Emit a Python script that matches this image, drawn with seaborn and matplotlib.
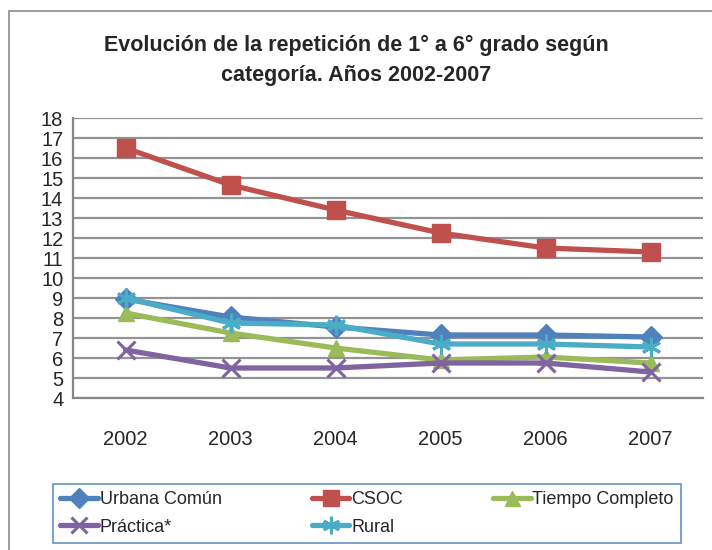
import matplotlib
matplotlib.use("Agg")
import matplotlib.pyplot as plt
import matplotlib.patches as mpatches
import seaborn as sns
import pandas as pd

years = ["2002", "2003", "2004", "2005", "2006", "2007"]
urbana_comun = [8.95, 8.05, 7.55, 7.15, 7.15, 7.05]
csoc = [16.5, 14.65, 13.4, 12.25, 11.5, 11.3]
tiempo_completo = [8.25, 7.25, 6.5, 5.9, 6.05, 5.75]
practica = [6.4, 5.5, 5.5, 5.75, 5.75, 5.3]
rural = [9.0, 7.75, 7.65, 6.7, 6.7, 6.55]

series_names = ["Urbana Común", "CSOC", "Tiempo Completo", "Práctica*", "Rural"]
series_vals = [urbana_comun, csoc, tiempo_completo, practica, rural]
colors = ["#4F81BD", "#C0504D", "#9BBB59", "#8064A2", "#4BACC6"]
markers = ["D", "s", "^", "x", (6, 2, 0)]
msizes = [11, 13, 12, 13, 14]

sns.set_style("white")
plt.rcParams['font.family'] = ['Liberation Sans', 'DejaVu Sans']

fig = plt.figure(figsize=(7.12, 5.5), dpi=100)
ax = fig.add_axes([73/712, 1-398/550, 630/712, 280/550])

# outer chart border
fig.patches.append(mpatches.Rectangle((9/712, -0.05), 1.1, (550-11)/550 + 0.05,
                                      transform=fig.transFigure, fill=False,
                                      edgecolor="#8c8c8c", linewidth=1.2))

for name, vals, c, m, ms in zip(series_names, series_vals, colors, markers, msizes):
    df = pd.DataFrame({"year": years, "val": vals})
    sns.lineplot(data=df, x="year", y="val", ax=ax, color=c, linewidth=3.8,
                 marker=m, markersize=ms, markeredgecolor=c,
                 markeredgewidth=2.2 if m in ("x", (6, 2, 0)) else 1,
                 label=name, sort=False)

handles = dict(zip(series_names, ax.get_lines()))

ax.set_ylim(4, 18)
ax.set_yticks(range(4, 19))
ax.set_xlim(-0.5, 5.5)
ax.set_xticks(range(6))
ax.set_xticklabels(years)
ax.set_xticks([i - 0.5 for i in range(7)], minor=True)
ax.tick_params(axis="x", which="major", length=0, labelsize=14.5, pad=23)
ax.tick_params(axis="x", which="minor", length=6, color="#868686", width=1.2, direction="out")
ax.tick_params(axis="y", length=6, color="#868686", width=1.2, direction="out", labelsize=14.5, pad=1)
ax.set_xlabel("")
ax.set_ylabel("")
ax.yaxis.grid(True, color="#939393", linewidth=1.6)
ax.set_axisbelow(True)
for s in ["top", "right"]:
    ax.spines[s].set_visible(False)
for s in ["left", "bottom"]:
    ax.spines[s].set_color("#868686")
    ax.spines[s].set_linewidth(1.6)
ax.get_legend().remove()

fig.text(0.5, 1-45/550, "Evolución de la repetición de 1° a 6° grado según",
         ha="center", va="center", fontsize=15.5, fontweight="bold")
fig.text(0.5, 1-76/550, "categoría. Años 2002-2007",
         ha="center", va="center", fontsize=15.5, fontweight="bold")

order = ["Urbana Común", "Práctica*", "CSOC", "Rural", "Tiempo Completo"]
leg = fig.legend([handles[n] for n in order], order, ncol=3,
                 loc="lower left", bbox_to_anchor=(53/712, 1-543/550, (681-53)/712, 75/550),
                 mode="expand", frameon=True, fancybox=False, fontsize=13,
                 handlelength=2.1, handletextpad=0.1, borderaxespad=0,
                 labelspacing=0.6, borderpad=0.4, markerscale=0.9)
leg.get_frame().set_edgecolor("#4F81BD")
leg.get_frame().set_linewidth(1.3)

fig.savefig("out.png", dpi=100)
